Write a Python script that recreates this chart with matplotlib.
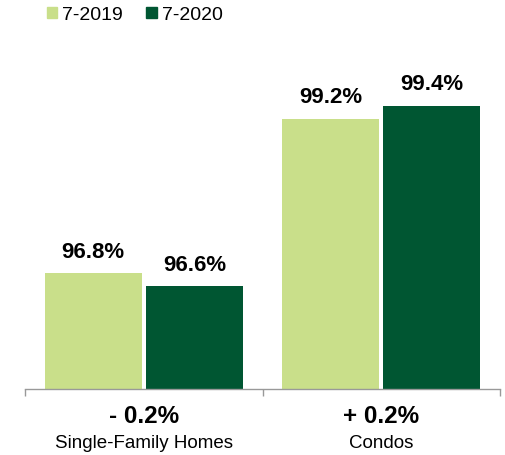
import matplotlib
matplotlib.use("Agg")
import matplotlib.pyplot as plt
from matplotlib.patches import Patch

plt.rcParams['font.family'] = ['Liberation Sans', 'DejaVu Sans']

categories = ["Single-Family Homes", "Condos"]
series_names = ["7-2019", "7-2020"]
values_2019 = [96.8, 99.2]
values_2020 = [96.6, 99.4]
changes = ["- 0.2%", "+ 0.2%"]
colors = ["#C9DF8A", "#005632"]

W, H = 505, 455
fig = plt.figure(figsize=(W / 100, H / 100), dpi=100)
ax_left, ax_right = 25, 500
ax_bottom_px, ax_top_px = 389, 30
ax = fig.add_axes([ax_left / W, (H - ax_bottom_px) / H,
                   (ax_right - ax_left) / W, (ax_bottom_px - ax_top_px) / H])

ymin = 95.0
px_per_unit = 64.4
ymax = ymin + (ax_bottom_px - ax_top_px) / px_per_unit

x = list(range(len(categories)))
off = 0.213
width = 0.408
for vals, sign, col in [(values_2019, -1, colors[0]), (values_2020, 1, colors[1])]:
    xs = [xi + sign * off for xi in x]
    ax.bar(xs, [v - ymin for v in vals], bottom=ymin, width=width, color=col)
    for xi, v in zip(xs, vals):
        ax.annotate(f"{v:.1f}%", (xi, v), xytext=(0, 11), textcoords="offset points",
                    ha="center", va="baseline", fontsize=16, fontweight="bold")

ax.set_xlim(-0.5, 1.5)
ax.set_ylim(ymin, ymax)
for s in ["top", "right", "left"]:
    ax.spines[s].set_visible(False)
ax.spines["bottom"].set_color("#999999")
ax.spines["bottom"].set_linewidth(1.0)
ax.set_yticks([])
ax.set_xticks([-0.5, 0.5, 1.5])
ax.set_xticklabels([])
ax.tick_params(axis="x", length=5, color="#999999", width=1.0)

for xi, ch, cat in zip(x, changes, categories):
    ax.annotate(ch, (xi, 0), xycoords=("data", "axes fraction"), xytext=(0, -20),
                textcoords="offset points", ha="center", va="center",
                fontsize=17.5, fontweight="bold")
    ax.annotate(cat, (xi, 0), xycoords=("data", "axes fraction"), xytext=(0, -39),
                textcoords="offset points", ha="center", va="center", fontsize=13.5)

handles = [Patch(color=c) for c in colors]
fig.legend(handles, series_names, loc="center left", bbox_to_anchor=(39 / W, 1 - 15 / H),
           ncol=2, frameon=False, fontsize=14, handlelength=0.55, handleheight=0.55,
           handletextpad=0.25, columnspacing=1.2, borderaxespad=0)

fig.savefig("out.png", dpi=100)
